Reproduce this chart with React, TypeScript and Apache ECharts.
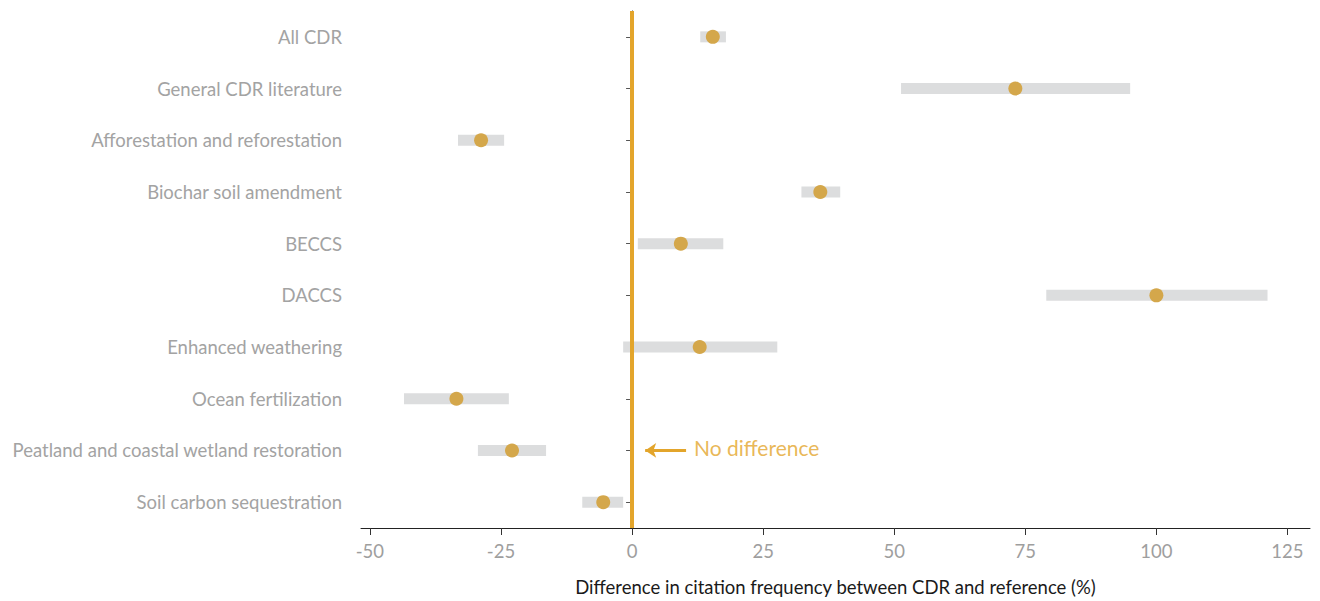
import React, { useEffect, useRef } from "react";
import * as echarts from "echarts";

const categories = [
  "All CDR",
  "General CDR literature",
  "Afforestation and reforestation",
  "Biochar soil amendment",
  "BECCS",
  "DACCS",
  "Enhanced weathering",
  "Ocean fertilization",
  "Peatland and coastal wetland restoration",
  "Soil carbon sequestration",
];
const estimates = [15.4, 73.1, -28.8, 35.9, 9.3, 100, 12.9, -33.5, -22.9, -5.5];
const lowerBounds = [13.0, 51.3, -33.2, 32.3, 1.1, 79.0, -1.7, -43.5, -29.4, -9.5];
const upperBounds = [17.9, 95.0, -24.4, 39.7, 17.4, 121.2, 27.7, -23.5, -16.4, -1.7];
const xTicks = [-50, -25, 0, 25, 50, 75, 100, 125];
const annotationRow = "Peatland and coastal wetland restoration";
const arrowFrom = 10.3;
const arrowTo = 2.5;
const annotationTextX = 11.8;

const GOLD = "#E3A52B";
const DOT = "#D4A74B";
const BAR = "#DCDDDE";
const FONT = "Lato, 'Open Sans', sans-serif";

export default function App() {
  const ref = useRef<HTMLDivElement>(null);
  useEffect(() => {
    if (!ref.current) return;
    const chart = echarts.init(ref.current, null, { renderer: "svg" });
    const rangeData = categories.map((c, i) => [lowerBounds[i], upperBounds[i], c]);
    const dotData = categories.map((c, i) => [estimates[i], c]);
    chart.setOption({
      animation: false,
      textStyle: { fontFamily: FONT },
      grid: { left: 361, right: 10, top: 11, bottom: 70, containLabel: false },
      xAxis: {
        type: "value",
        min: -51.7,
        max: 129.3,
        splitLine: { show: false },
        axisLine: { show: true, onZero: false, lineStyle: { color: "#222", width: 1 } },
        axisTick: { show: true, customValues: xTicks, length: 7, lineStyle: { color: "#333" } },
        axisLabel: {
          customValues: xTicks,
          color: "#9E9E9E",
          fontSize: 18.5,
          margin: 13,
          fontFamily: FONT,
        },
        name: "Difference in citation frequency between CDR and reference (%)",
        nameLocation: "middle",
        nameGap: 49,
        nameTextStyle: { color: "#1a1a1a", fontSize: 18.5, fontFamily: FONT },
      },
      yAxis: {
        type: "category",
        data: categories,
        inverse: true,
        axisLine: { show: true, lineStyle: { color: "#222", width: 1 } },
        axisTick: { show: true, alignWithLabel: true, length: 6, lineStyle: { color: "#555" } },
        axisLabel: { color: "#A3A3A3", fontSize: 18.5, margin: 19, fontFamily: FONT, padding: [0, 0, 4, 0] },
        splitLine: { show: false },
      },
      series: [
        {
          type: "custom",
          silent: true,
          data: rangeData,
          encode: { x: [0, 1], y: 2 },
          renderItem: (params: any, api: any) => {
            const lo = api.coord([api.value(0), api.value(2)]);
            const hi = api.coord([api.value(1), api.value(2)]);
            const h = 11;
            return {
              type: "rect",
              shape: { x: lo[0], y: lo[1] - h / 2, width: hi[0] - lo[0], height: h },
              style: { fill: BAR },
            };
          },
          z: 1,
        },
        {
          type: "scatter",
          data: [[0, categories[0]]],
          symbolSize: 0,
          silent: true,
          z: 2,
          markLine: {
            silent: true,
            symbol: ["none", "none"],
            label: { show: false },
            lineStyle: { color: GOLD, width: 4, type: "solid" },
            data: [{ xAxis: 0 }],
          },
        },
        {
          type: "scatter",
          data: dotData,
          symbol: "circle",
          symbolSize: 14,
          itemStyle: { color: DOT, opacity: 1 },
          silent: true,
          z: 3,
        },
        {
          type: "lines",
          coordinateSystem: "cartesian2d",
          silent: true,
          symbol: ["none", "arrow"],
          symbolSize: 11,
          lineStyle: { color: GOLD, width: 3, opacity: 1 },
          data: [{ coords: [[arrowFrom, annotationRow], [arrowTo, annotationRow]] }],
          z: 4,
        },
        {
          type: "scatter",
          data: [[annotationTextX, annotationRow]],
          symbolSize: 0,
          silent: true,
          label: {
            show: true,
            position: "right",
            distance: 0,
            offset: [0, -3],
            formatter: "No difference",
            color: GOLD,
            fontSize: 21,
            fontFamily: FONT,
          },
          z: 4,
        },
      ],
    });
    return () => chart.dispose();
  }, []);
  return (
    <div
      ref={ref}
      style={{ position: "fixed", left: 0, top: 0, width: 1320, height: 601, background: "#fff" }}
    />
  );
}
